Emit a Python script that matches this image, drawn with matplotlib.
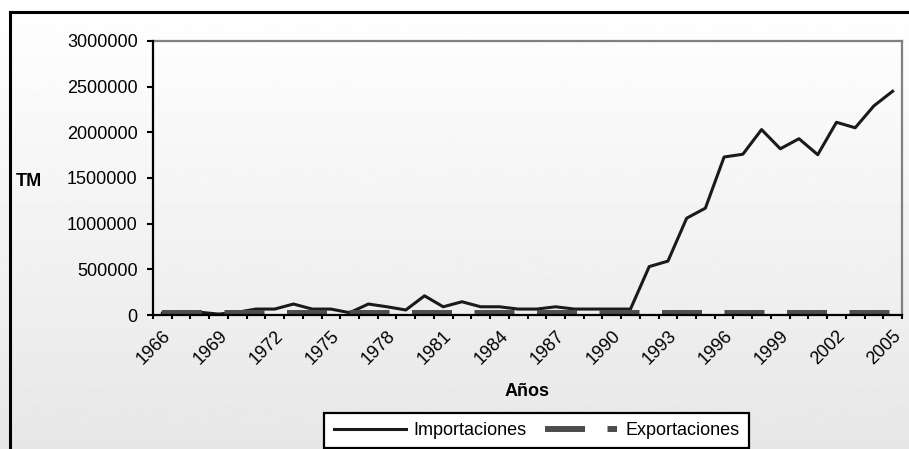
import numpy as np
import matplotlib
matplotlib.use("Agg")
import matplotlib.pyplot as plt
from matplotlib.lines import Line2D

plt.rcParams['font.family'] = ['Liberation Sans', 'DejaVu Sans']
plt.rcParams['lines.scale_dashes'] = False

# data
years = list(range(1966, 2006))
importaciones = [20000, 20000, 30000, 10000, 30000, 65000, 65000, 120000, 65000, 65000,
                 25000, 120000, 90000, 55000, 210000, 90000, 145000, 90000, 90000, 65000,
                 65000, 90000, 65000, 65000, 65000, 65000, 530000, 590000, 1060000, 1170000,
                 1730000, 1760000, 2030000, 1820000, 1930000, 1755000, 2110000, 2050000,
                 2290000, 2450000]
exportaciones = [20000] * 40
ytick_vals = [0, 500000, 1000000, 1500000, 2000000, 2500000, 3000000]
label_years = years[::3]

W, H = 909, 449
fig = plt.figure(figsize=(W / 100, H / 100), dpi=100)

# background gradient (white to light gray)
bg = fig.add_axes([0, 0, 1, 1], zorder=-10)
grad = np.linspace(1.0, 0.905, 256).reshape(-1, 1)
bg.imshow(grad, cmap='gray', vmin=0, vmax=1, aspect='auto', extent=[0, 1, 0, 1])
bg.set_axis_off()

# outer chart border (left and top)
fig.add_artist(Line2D([10 / W, 10 / W], [0, 1 - 12 / H], transform=fig.transFigure,
                      color='black', lw=2.2))
fig.add_artist(Line2D([10 / W, 1], [1 - 12 / H, 1 - 12 / H], transform=fig.transFigure,
                      color='black', lw=2.2))

ax = fig.add_axes([153 / W, 1 - 315 / H, (902 - 153) / W, (315 - 41) / H])
ax.patch.set_alpha(0)

x = np.arange(len(years))
ax.plot(x, importaciones, color='#1a1a1a', lw=2.2, label='Importaciones', zorder=3)
ax.plot(x, exportaciones, color='#4d4d4d', lw=4.3, ls=(0, (28.8, 16.2)),
        solid_capstyle='butt', dash_capstyle='butt', label='Exportaciones', zorder=4)

ax.set_xlim(-0.5, len(years) - 0.5)
ax.set_ylim(0, 3000000)

ax.set_yticks(ytick_vals)
ax.set_yticklabels([str(v) for v in ytick_vals], fontsize=13)
ax.tick_params(axis='y', direction='out', length=4, width=1.5, pad=7)

ax.set_xticks(np.arange(-0.5, len(years), 1))
ax.set_xticklabels([])
ax.tick_params(axis='x', which='major', direction='out', length=3, width=1.5)
ax.set_xticks([years.index(y) for y in label_years], minor=True)
ax.set_xticklabels([str(y) for y in label_years], minor=True, fontsize=13,
                   rotation=45, ha='right', va='top', rotation_mode='anchor')
ax.tick_params(axis='x', which='minor', length=0, pad=9)

for side in ['left', 'bottom']:
    ax.spines[side].set_color('black')
    ax.spines[side].set_linewidth(1.6)
    ax.spines[side].set_zorder(5)
for side in ['top', 'right']:
    ax.spines[side].set_color('#808080')
    ax.spines[side].set_linewidth(1.6)

fig.text(29 / W, 1 - 181 / H, 'TM', fontsize=13, fontweight='bold', ha='center', va='center')
fig.text(527 / W, 1 - 392 / H, 'Años', fontsize=13, fontweight='bold', ha='center', va='center')

leg = fig.legend(loc='upper center', bbox_to_anchor=(536.5 / W, 1 - 413 / H), ncol=2,
                 fontsize=13, frameon=True, fancybox=False, handlelength=4.0,
                 handletextpad=0.45, columnspacing=1.0, borderpad=0.5, borderaxespad=0)
leg.get_frame().set_edgecolor('black')
leg.get_frame().set_linewidth(1.6)
leg.get_frame().set_facecolor('white')
leg.get_frame().set_alpha(1)

fig.savefig('out.png', dpi=100)
